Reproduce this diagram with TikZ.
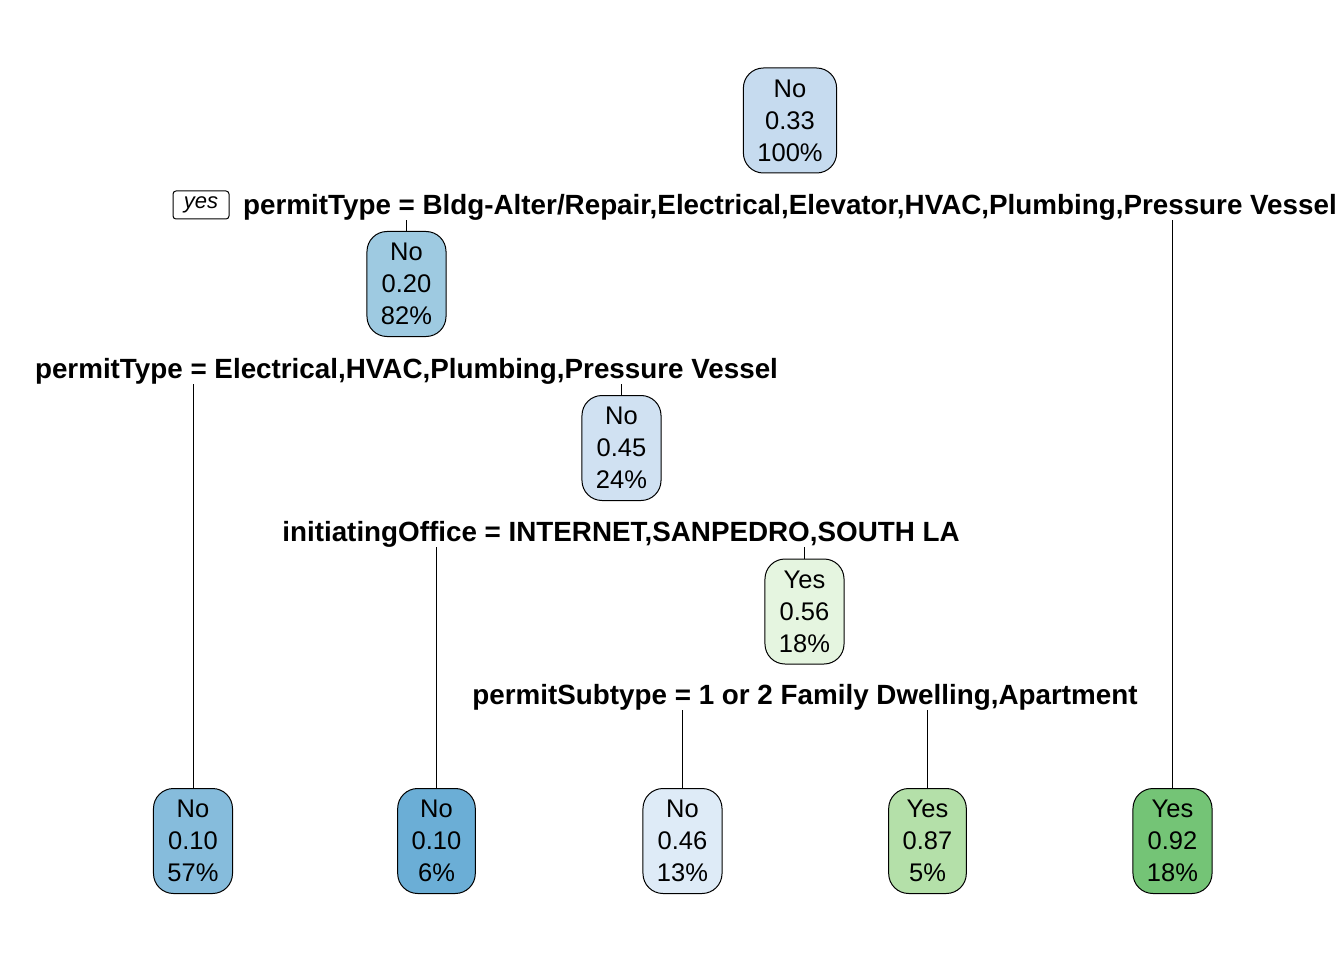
\documentclass[tikz,border=0pt]{standalone}
\usepackage{fontspec}
\setmainfont{Liberation Sans}
\usetikzlibrary{positioning,calc}

\definecolor{bluea}{HTML}{C6DBEF}
\definecolor{blueb}{HTML}{9ECAE1}
\definecolor{bluec}{HTML}{86BCDC}
\definecolor{blued}{HTML}{6BAED6}
\definecolor{bluee}{HTML}{D0E1F2}
\definecolor{bluef}{HTML}{DEEBF7}
\definecolor{greena}{HTML}{E5F5E0}
\definecolor{greenb}{HTML}{B4E0A9}
\definecolor{greenc}{HTML}{74C476}

\tikzset{
  leafbox/.style={draw, line width=1pt, rounded corners=20pt, align=center,
    inner xsep=14pt, inner ysep=0pt, minimum height=105pt,
    font=\fontsize{25.5}{32}\selectfont, execute at begin node={\rule{0pt}{27pt}}},
  splitlabel/.style={inner sep=0pt, font=\fontsize{27.8}{32}\selectfont\bfseries},
  branch/.style={line width=1pt}
}

\begin{document}
\begin{tikzpicture}[x=1pt, y=-1pt]
  \useasboundingbox (0,0) rectangle (1344,960);

  % inner nodes
  \node[leafbox, fill=bluea] (root) at (790,120.5) {No\\0.33\\100\%};
  \node[leafbox, fill=blueb] (n2) at (406.5,284) {No\\0.20\\82\%};
  \node[leafbox, fill=bluee] (n5) at (621.5,448) {No\\0.45\\24\%};
  \node[leafbox, fill=greena] (n11) at (804.5,611.5) {Yes\\0.56\\18\%};
  %
  % leaves
  \node[leafbox, fill=bluec] (n4) at (193,841) {No\\0.10\\57\%};
  \node[leafbox, fill=blued] (n10) at (436.5,841) {No\\0.10\\6\%};
  \node[leafbox, fill=bluef] (n22) at (682.5,841) {No\\0.46\\13\%};
  \node[leafbox, fill=greenb] (n23) at (927.5,841) {Yes\\0.87\\5\%};
  \node[leafbox, fill=greenc] (n3) at (1172.5,841) {Yes\\0.92\\18\%};
  %
  % split labels
  \node[splitlabel] (s1) at (790,207) {permitType = Bldg-Alter/Repair,Electrical,Elevator,HVAC,Plumbing,Pressure Vessel};
  \node[splitlabel] (s2) at (406.5,371) {permitType = Electrical,HVAC,Plumbing,Pressure Vessel};
  \node[splitlabel] (s5) at (621,534) {initiatingOffice = INTERNET,SANPEDRO,SOUTH LA};
  \node[splitlabel] (s11) at (805,697) {permitSubtype = 1 or 2 Family Dwelling,Apartment};
  %
  \node[draw, line width=1pt, rounded corners=3pt, minimum width=56pt, minimum height=28pt,
    inner sep=0pt, font=\fontsize{22}{24}\selectfont\itshape] (yes) at (201,205) {\raisebox{-2pt}{yes}};
  %
  \draw[branch] (n2.north |- s1.south) -- (n2.north);
  \draw[branch] (n3.north |- s1.south) -- (n3.north);
  \draw[branch] (n4.north |- s2.south) -- (n4.north);
  \draw[branch] (n5.north |- s2.south) -- (n5.north);
  \draw[branch] (n10.north |- s5.south) -- (n10.north);
  \draw[branch] (n11.north |- s5.south) -- (n11.north);
  \draw[branch] (n22.north |- s11.south) -- (n22.north);
  \draw[branch] (n23.north |- s11.south) -- (n23.north);
\end{tikzpicture}
\end{document}
